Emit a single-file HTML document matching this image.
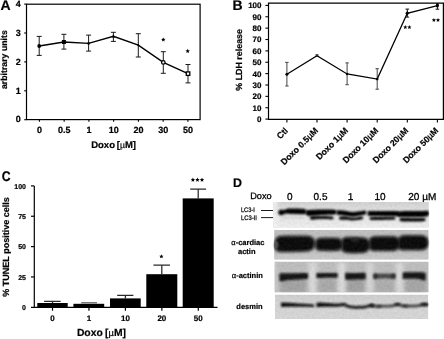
<!DOCTYPE html>
<html><head><meta charset="utf-8">
<style>
html,body{margin:0;padding:0;background:#fff;width:444px;height:339px;overflow:hidden}
svg{display:block;filter:blur(0.3px)}
text{font-family:"Liberation Sans",sans-serif;text-rendering:geometricPrecision}
.b{font-weight:bold;stroke:#000;stroke-width:0.2px}
</style></head><body>
<svg width="444" height="339" viewBox="0 0 444 339">
<defs>
<filter id="bl1" x="-30%" y="-150%" width="160%" height="400%"><feGaussianBlur stdDeviation="0.9"/></filter>
<filter id="bl08" x="-30%" y="-150%" width="160%" height="400%"><feGaussianBlur stdDeviation="0.7"/></filter>
<filter id="bl15" x="-30%" y="-150%" width="160%" height="400%"><feGaussianBlur stdDeviation="1.2"/></filter>
<filter id="addnoise" x="0" y="0" width="100%" height="100%" color-interpolation-filters="sRGB">
<feTurbulence type="fractalNoise" baseFrequency="0.4" numOctaves="2" seed="7" result="n"/>
<feColorMatrix in="n" type="matrix" values="1 0 0 0 0  1 0 0 0 0  1 0 0 0 0  0 0 0 0 1" result="g"/>
<feComposite in="SourceGraphic" in2="g" operator="arithmetic" k1="0" k2="1" k3="0.08" k4="-0.04" result="c"/>
<feComposite in="c" in2="SourceAlpha" operator="in"/>
</filter>
<clipPath id="c3"><rect x="274.6" y="261.6" width="154" height="30.8"/></clipPath>
<filter id="bl2" x="-30%" y="-150%" width="160%" height="400%"><feGaussianBlur stdDeviation="1.4"/></filter>
<filter id="bl3" x="-30%" y="-150%" width="160%" height="400%"><feGaussianBlur stdDeviation="2.2"/></filter>
<linearGradient id="g1" x1="0" y1="0" x2="0" y2="1">
<stop offset="0" stop-color="#cfcfcf"/><stop offset="0.25" stop-color="#dadada"/><stop offset="0.6" stop-color="#e3e3e3"/><stop offset="1" stop-color="#ebebeb"/>
</linearGradient>
<linearGradient id="g1l" x1="0" y1="0" x2="1" y2="0">
<stop offset="0" stop-color="#f2f2f2" stop-opacity="0.9"/><stop offset="1" stop-color="#f2f2f2" stop-opacity="0"/>
</linearGradient>
<linearGradient id="g2" x1="0" y1="0" x2="0" y2="1">
<stop offset="0" stop-color="#bebebe"/><stop offset="0.5" stop-color="#bdbdbd"/><stop offset="1" stop-color="#c8c8c8"/>
</linearGradient>
<linearGradient id="g4" x1="0" y1="0" x2="0" y2="1">
<stop offset="0" stop-color="#cbcbcb"/><stop offset="0.3" stop-color="#d2d2d2"/><stop offset="1" stop-color="#d4d4d4"/>
</linearGradient>
</defs>

<!-- ============ PANEL A ============ -->
<g id="A">
<text x="0.6" y="10.2" class="b" font-size="14">A</text>
<rect x="26.5" y="4.2" width="173.6" height="115.4" fill="none" stroke="#000" stroke-width="1.2"/>
<g stroke="#000" stroke-width="1.1">
<line x1="24.2" y1="4.1" x2="26.5" y2="4.1"/>
<line x1="24.2" y1="33" x2="26.5" y2="33"/>
<line x1="24.2" y1="61.9" x2="26.5" y2="61.9"/>
<line x1="24.2" y1="90.8" x2="26.5" y2="90.8"/>
<line x1="24.2" y1="119.7" x2="26.5" y2="119.7"/>
<line x1="39.4" y1="119.6" x2="39.4" y2="121.8"/>
<line x1="64.15" y1="119.6" x2="64.15" y2="121.8"/>
<line x1="88.9" y1="119.6" x2="88.9" y2="121.8"/>
<line x1="113.65" y1="119.6" x2="113.65" y2="121.8"/>
<line x1="138.4" y1="119.6" x2="138.4" y2="121.8"/>
<line x1="163.15" y1="119.6" x2="163.15" y2="121.8"/>
<line x1="187.9" y1="119.6" x2="187.9" y2="121.8"/>
</g>
<g class="b" font-size="9" text-anchor="end">
<text x="20.8" y="6.8">4</text>
<text x="20.8" y="35.7">3</text>
<text x="20.8" y="64.6">2</text>
<text x="20.8" y="93.5">1</text>
<text x="20.8" y="122.4">0</text>
</g>
<g class="b" font-size="9" text-anchor="middle">
<text x="39.4" y="132.8">0</text>
<text x="64.15" y="132.8">0.5</text>
<text x="88.9" y="132.8">1</text>
<text x="113.65" y="132.8">10</text>
<text x="138.4" y="132.8">20</text>
<text x="163.15" y="132.8">30</text>
<text x="187.9" y="132.8">50</text>
</g>
<text x="91.2" y="148" class="b" font-size="9.5">Doxo <tspan dx="-0.8">[</tspan><tspan font-weight="normal" font-size="8.6">µ</tspan>M]</text>
<text transform="translate(7.3,59.6) rotate(-90)" class="b" font-size="8.75" text-anchor="middle">arbitrary units</text>
<!-- error bars -->
<g stroke="#1a1a1a" stroke-width="1">
<path d="M39.2 36.4V55.4M36.7 36.4H41.7M36.7 55.4H41.7"/>
<path d="M63.9 34.3V49.1M61.4 34.3H66.4M61.4 49.1H66.4"/>
<path d="M88.6 35.1V51.1M86.1 35.1H91.1M86.1 51.1H91.1"/>
<path d="M113.4 32.3V41.4M110.9 32.3H115.9M110.9 41.4H115.9"/>
<path d="M138.3 33.7V57M135.8 33.7H140.8M135.8 57H140.8"/>
<path d="M163.3 51.7V73.3M160.8 51.7H165.8M160.8 73.3H165.8"/>
<path d="M188 64.5V82.9M185.5 64.5H190.5M185.5 82.9H190.5"/>
</g>
<polyline points="39.2,46 63.9,42 88.6,43.4 113.4,36.3 138.3,45.2 163.3,62.4 188,73.6" fill="none" stroke="#000" stroke-width="1.4"/>
<circle cx="39.2" cy="46" r="1.9" fill="#000"/>
<rect x="61.9" y="40" width="4" height="4" fill="#000"/>
<circle cx="88.6" cy="43.4" r="1.3" fill="#000"/>
<path d="M113.4 34.6 L115.3 37.4 L111.5 37.4Z" fill="#000"/>
<circle cx="138.3" cy="45.2" r="1" fill="#000"/>
<circle cx="163.3" cy="62.4" r="1.75" fill="#fff" stroke="#000" stroke-width="1.3"/>
<rect x="186.3" y="71.9" width="3.5" height="3.5" fill="#fff" stroke="#000" stroke-width="1.3"/>
<g fill="#000"><polygon points="163.30,37.39 163.92,38.85 165.50,38.99 164.29,40.02 164.65,41.57 163.30,40.75 161.95,41.57 162.31,40.02 161.10,38.99 162.68,38.85"/><polygon points="187.70,48.79 188.32,50.25 189.90,50.39 188.69,51.42 189.05,52.97 187.70,52.15 186.35,52.97 186.71,51.42 185.50,50.39 187.08,50.25"/></g>
</g>

<!-- ============ PANEL B ============ -->
<g id="B">
<text x="232.6" y="10.2" class="b" font-size="14">B</text>
<path d="M268.5 3.1H443.4V119.4H268.5Z" fill="none" stroke="#000" stroke-width="1.2"/>
<g stroke="#000" stroke-width="1.1">
<line x1="265.4" y1="5.4" x2="268.5" y2="5.4"/>
<line x1="265.4" y1="16.77" x2="268.5" y2="16.77"/>
<line x1="265.4" y1="28.14" x2="268.5" y2="28.14"/>
<line x1="265.4" y1="39.51" x2="268.5" y2="39.51"/>
<line x1="265.4" y1="50.88" x2="268.5" y2="50.88"/>
<line x1="265.4" y1="62.25" x2="268.5" y2="62.25"/>
<line x1="265.4" y1="73.62" x2="268.5" y2="73.62"/>
<line x1="265.4" y1="84.99" x2="268.5" y2="84.99"/>
<line x1="265.4" y1="96.36" x2="268.5" y2="96.36"/>
<line x1="265.4" y1="107.73" x2="268.5" y2="107.73"/>
<line x1="265.4" y1="119.1" x2="268.5" y2="119.1"/>
<line x1="286.9" y1="119.4" x2="286.9" y2="122.4"/>
<line x1="317.0" y1="119.4" x2="317.0" y2="122.4"/>
<line x1="347.1" y1="119.4" x2="347.1" y2="122.4"/>
<line x1="377.2" y1="119.4" x2="377.2" y2="122.4"/>
<line x1="407.3" y1="119.4" x2="407.3" y2="122.4"/>
<line x1="437.4" y1="119.4" x2="437.4" y2="122.4"/>
</g>
<g class="b" font-size="8" text-anchor="end">
<text x="261.5" y="8.3">100</text>
<text x="261.5" y="19.67">90</text>
<text x="261.5" y="31.04">80</text>
<text x="261.5" y="42.41">70</text>
<text x="261.5" y="53.78">60</text>
<text x="261.5" y="65.15">50</text>
<text x="261.5" y="76.52">40</text>
<text x="261.5" y="87.89">30</text>
<text x="261.5" y="99.26">20</text>
<text x="261.5" y="110.63">10</text>
<text x="261.5" y="122">0</text>
</g>
<text transform="translate(242.3,59.9) rotate(-90)" class="b" font-size="8.9" text-anchor="middle">% LDH release</text>
<g class="b" font-size="8.7" text-anchor="end">
<text transform="translate(288.5,131.2) rotate(-45)">Ctl</text>
<text transform="translate(318.6,131.2) rotate(-45)">Doxo 0.5<tspan font-weight="normal" style="stroke-width:0.35px">µ</tspan>M</text>
<text transform="translate(348.7,131.2) rotate(-45)">Doxo 1<tspan font-weight="normal" style="stroke-width:0.35px">µ</tspan>M</text>
<text transform="translate(378.8,131.2) rotate(-45)">Doxo 10<tspan font-weight="normal" style="stroke-width:0.35px">µ</tspan>M</text>
<text transform="translate(408.9,131.2) rotate(-45)">Doxo 20<tspan font-weight="normal" style="stroke-width:0.35px">µ</tspan>M</text>
<text transform="translate(439.0,131.2) rotate(-45)">Doxo 50<tspan font-weight="normal" style="stroke-width:0.35px">µ</tspan>M</text>
</g>
<g stroke="#444" stroke-width="1">
<path d="M286.9 62.4V86M285.2 62.4H288.6M285.2 86H288.6"/>
<path d="M347.1 62.9V84.7M345.4 62.9H348.8M345.4 84.7H348.8"/>
<path d="M377.2 68.7V89.2M375.5 68.7H378.9M375.5 89.2H378.9"/>
<path d="M407.3 9.1V17.1M405.5 9.1H409.1M405.5 17.1H409.1" stroke="#111"/>
<path d="M437.4 3.5V9.2M435.6 9.2H439.2" stroke="#111"/>
</g>
<polyline points="286.9,74.2 317,55.8 347.1,74 377.2,79.1 407.3,13.3 437.4,5.7" fill="none" stroke="#000" stroke-width="1.3"/>
<g fill="#000">
<circle cx="286.9" cy="74.2" r="1.5"/>
<circle cx="317" cy="55.8" r="1.2"/>
<circle cx="347.1" cy="74" r="1.2"/>
<circle cx="377.2" cy="79.1" r="1.3"/>
<path d="M407.3 10.9L409.3 13.2L407.3 15.4L405.3 13.2Z"/>
<ellipse cx="437.4" cy="5.4" rx="1.6" ry="2.1"/>
</g>
<g fill="#000"><polygon points="405.30,25.10 405.88,26.50 407.39,26.62 406.25,27.61 406.60,29.08 405.30,28.29 404.00,29.08 404.35,27.61 403.21,26.62 404.72,26.50"/><polygon points="409.40,25.10 409.98,26.50 411.49,26.62 410.35,27.61 410.70,29.08 409.40,28.29 408.10,29.08 408.45,27.61 407.31,26.62 408.82,26.50"/><polygon points="433.90,17.90 434.48,19.30 435.99,19.42 434.85,20.41 435.20,21.88 433.90,21.09 432.60,21.88 432.95,20.41 431.81,19.42 433.32,19.30"/><polygon points="438.00,17.90 438.58,19.30 440.09,19.42 438.95,20.41 439.30,21.88 438.00,21.09 436.70,21.88 437.05,20.41 435.91,19.42 437.42,19.30"/></g>
<path d="M317 54.8V56.8M315.3 54.8H318.7" stroke="#444" stroke-width="1"/>
</g>

<!-- ============ PANEL C ============ -->
<g id="C">
<text transform="matrix(0.87,0,0,1,1.1,0)" x="0.9" y="181.3" class="b" font-size="14">C</text>
<g stroke="#000" stroke-width="1.2">
<line x1="34.3" y1="185.9" x2="34.3" y2="307.3"/>
<line x1="31" y1="307.3" x2="217.5" y2="307.3"/>
<line x1="31" y1="185.9" x2="34.3" y2="185.9"/>
<line x1="31" y1="216.25" x2="34.3" y2="216.25"/>
<line x1="31" y1="246.6" x2="34.3" y2="246.6"/>
<line x1="31" y1="276.95" x2="34.3" y2="276.95"/>
<line x1="52.5" y1="307.3" x2="52.5" y2="310.7"/>
<line x1="88.95" y1="307.3" x2="88.95" y2="310.7"/>
<line x1="125.4" y1="307.3" x2="125.4" y2="310.7"/>
<line x1="161.85" y1="307.3" x2="161.85" y2="310.7"/>
<line x1="198.3" y1="307.3" x2="198.3" y2="310.7"/>
</g>
<g class="b" font-size="7" text-anchor="end">
<text x="26" y="188.7">100</text>
<text x="26" y="219.05">75</text>
<text x="26" y="249.4">50</text>
<text x="26" y="279.75">25</text>
<text x="26" y="310.1">0</text>
</g>
<g fill="#000">
<rect x="37.3" y="303" width="30.4" height="4.3"/>
<rect x="73.4" y="303.8" width="30.8" height="3.5"/>
<rect x="110" y="298.4" width="30.7" height="8.9"/>
<rect x="146.3" y="274.2" width="31" height="33.1"/>
<rect x="182.7" y="198.4" width="31" height="108.9"/>
</g>
<g stroke="#2a2a2a" stroke-width="1.25">
<path d="M52.5 303V301.3M44.1 301.3H60.6"/>
<path d="M125.4 298.4V295.3M117.2 295.3H133.4"/>
<path d="M161.8 274.2V265.1M153.4 265.1H170"/>
<path d="M198.2 198.4V189.1M190.2 189.1H206.1"/>
</g>
<path d="M81.2 302.8H97" stroke="#555" stroke-width="1.2"/>
<g class="b" font-size="8" text-anchor="middle">
<text x="52.5" y="321">0</text>
<text x="88.95" y="321">1</text>
<text x="125.4" y="321">10</text>
<text x="161.85" y="321">20</text>
<text x="198.3" y="321">50</text>
</g>
<g fill="#000"><polygon points="161.40,254.19 162.02,255.65 163.60,255.79 162.39,256.82 162.75,258.37 161.40,257.55 160.05,258.37 160.41,256.82 159.20,255.79 160.78,255.65"/><polygon points="192.90,177.59 193.52,179.05 195.10,179.19 193.89,180.22 194.25,181.77 192.90,180.95 191.55,181.77 191.91,180.22 190.70,179.19 192.28,179.05"/><polygon points="197.45,177.59 198.07,179.05 199.65,179.19 198.44,180.22 198.80,181.77 197.45,180.95 196.10,181.77 196.46,180.22 195.25,179.19 196.83,179.05"/><polygon points="202.00,177.59 202.62,179.05 204.20,179.19 202.99,180.22 203.35,181.77 202.00,180.95 200.65,181.77 201.01,180.22 199.80,179.19 201.38,179.05"/></g>
<text x="76.9" y="336.1" class="b" font-size="10.35">Doxo <tspan dx="-0.6">[</tspan><tspan font-weight="normal" font-size="9.4">µ</tspan>M]</text>
<text transform="translate(8.8,247) rotate(-90)" class="b" font-size="9" text-anchor="middle">% TUNEL positive cells</text>
</g>

<!-- ============ PANEL D ============ -->
<g id="D">
<text x="233.1" y="187.1" class="b" font-size="12.4">D</text>
<g style="stroke:#000;stroke-width:0.3px">
<text x="250.2" y="199.2" font-size="9.2">Doxo</text>
<g font-size="10" text-anchor="middle">
<text x="289.8" y="200">0</text>
<text x="320.5" y="200">0.5</text>
<text x="350.5" y="200">1</text>
<text x="380" y="200">10</text>
</g>
<text x="408.3" y="200" font-size="10">20 µM</text>
</g>

<!-- panel 1 LC3 -->
<g filter="url(#addnoise)">
<rect x="273.3" y="202" width="155.5" height="25.7" fill="url(#g1)"/>
<rect x="273.3" y="202" width="7" height="25.7" fill="url(#g1l)"/>
<path d="M281.76 217.50 C281.76 217.27 280.29 216.93 282.00 216.80 C283.71 216.67 288.50 216.70 292.00 216.70 C295.50 216.70 301.13 216.67 303.00 216.80 C304.87 216.93 303.24 217.27 303.24 217.50 C303.24 217.73 304.87 218.10 303.00 218.20 C301.13 218.30 295.50 218.10 292.00 218.10 C288.50 218.10 283.71 218.30 282.00 218.20 C280.29 218.10 281.76 217.73 281.76 217.50Z" fill="#c6c6c6" filter="url(#bl1)"/>
<path d="M278.26 212.50 C278.26 212.03 278.24 211.53 278.50 211.10 C278.76 210.67 279.22 210.12 279.80 209.90 C280.38 209.68 281.30 209.78 282.00 209.80 C282.70 209.82 283.42 210.05 284.00 210.00 C284.58 209.95 284.92 209.72 285.50 209.50 C286.08 209.28 285.92 208.85 287.50 208.70 C289.08 208.55 292.58 208.58 295.00 208.60 C297.42 208.62 300.42 208.72 302.00 208.80 C303.58 208.88 303.83 208.88 304.50 209.10 C305.17 209.32 305.71 209.63 306.00 210.10 C306.29 210.57 306.24 211.30 306.24 211.90 C306.24 212.50 306.29 213.33 306.00 213.70 C305.71 214.07 305.17 214.00 304.50 214.10 C303.83 214.20 303.58 214.30 302.00 214.30 C300.42 214.30 297.42 214.20 295.00 214.10 C292.58 214.00 289.08 213.82 287.50 213.70 C285.92 213.58 286.08 213.30 285.50 213.40 C284.92 213.50 284.58 214.02 284.00 214.30 C283.42 214.58 282.70 215.00 282.00 215.10 C281.30 215.20 280.38 215.10 279.80 214.90 C279.22 214.70 278.76 214.30 278.50 213.90 C278.24 213.50 278.26 212.97 278.26 212.50Z" fill="#050505" filter="url(#bl1)"/>
<path d="M305.56 212.45 C305.56 211.97 305.56 211.38 305.80 211.00 C306.04 210.62 306.30 210.37 307.00 210.20 C307.70 210.03 307.83 210.10 310.00 210.00 C312.17 209.90 316.67 209.67 320.00 209.60 C323.33 209.53 327.67 209.58 330.00 209.60 C332.33 209.62 332.95 209.58 334.00 209.70 C335.05 209.82 335.88 209.92 336.30 210.30 C336.72 210.68 336.54 211.43 336.54 212.00 C336.54 212.57 336.72 213.30 336.30 213.70 C335.88 214.10 335.05 214.22 334.00 214.40 C332.95 214.58 332.33 214.65 330.00 214.80 C327.67 214.95 323.33 215.10 320.00 215.30 C316.67 215.50 312.17 215.98 310.00 216.00 C307.83 216.02 307.70 215.75 307.00 215.40 C306.30 215.05 306.04 214.39 305.80 213.90 C305.56 213.41 305.56 212.93 305.56 212.45Z" fill="#050505" filter="url(#bl1)"/>
<path d="M336.46 212.50 C336.46 211.97 336.44 211.27 336.70 210.90 C336.96 210.53 337.45 210.40 338.00 210.30 C338.55 210.20 338.83 210.23 340.00 210.30 C341.17 210.37 343.00 210.43 345.00 210.70 C347.00 210.97 349.83 211.78 352.00 211.90 C354.17 212.02 356.17 211.60 358.00 211.40 C359.83 211.20 361.83 210.82 363.00 210.70 C364.17 210.58 364.47 210.60 365.00 210.70 C365.53 210.80 365.96 210.98 366.20 211.30 C366.44 211.62 366.44 212.20 366.44 212.65 C366.44 213.10 366.44 213.69 366.20 214.00 C365.96 214.31 365.53 214.35 365.00 214.50 C364.47 214.65 364.17 214.65 363.00 214.90 C361.83 215.15 359.83 215.70 358.00 216.00 C356.17 216.30 354.17 216.73 352.00 216.70 C349.83 216.67 347.00 216.07 345.00 215.80 C343.00 215.53 341.17 215.25 340.00 215.10 C338.83 214.95 338.55 215.07 338.00 214.90 C337.45 214.73 336.96 214.50 336.70 214.10 C336.44 213.70 336.46 213.03 336.46 212.50Z" fill="#050505" filter="url(#bl1)"/>
<path d="M367.56 213.50 C367.56 212.93 367.56 212.22 367.80 211.80 C368.04 211.38 368.30 211.15 369.00 211.00 C369.70 210.85 369.33 210.90 372.00 210.90 C374.67 210.90 381.17 210.97 385.00 211.00 C388.83 211.03 392.83 211.02 395.00 211.10 C397.17 211.18 397.17 211.33 398.00 211.50 C398.83 211.67 399.63 211.68 400.00 212.10 C400.37 212.52 400.24 213.37 400.24 214.00 C400.24 214.63 400.37 215.55 400.00 215.90 C399.63 216.25 398.83 216.05 398.00 216.10 C397.17 216.15 397.17 216.18 395.00 216.20 C392.83 216.22 388.83 216.22 385.00 216.20 C381.17 216.18 374.67 216.13 372.00 216.10 C369.33 216.07 369.70 216.15 369.00 216.00 C368.30 215.85 368.04 215.62 367.80 215.20 C367.56 214.78 367.56 214.07 367.56 213.50Z" fill="#050505" filter="url(#bl1)"/>
<path d="M397.26 214.20 C397.26 213.63 397.13 212.88 397.50 212.50 C397.87 212.12 398.58 212.13 399.50 211.90 C400.42 211.67 401.25 211.27 403.00 211.10 C404.75 210.93 407.17 210.92 410.00 210.90 C412.83 210.88 417.33 211.03 420.00 211.00 C422.67 210.97 424.67 210.75 426.00 210.70 C427.33 210.65 427.53 210.58 428.00 210.70 C428.47 210.82 428.63 210.96 428.80 211.40 C428.97 211.84 429.04 212.70 429.04 213.35 C429.04 214.00 428.97 214.88 428.80 215.30 C428.63 215.73 428.47 215.72 428.00 215.90 C427.53 216.08 427.33 216.23 426.00 216.40 C424.67 216.57 422.67 216.80 420.00 216.90 C417.33 217.00 412.83 217.00 410.00 217.00 C407.17 217.00 404.75 216.95 403.00 216.90 C401.25 216.85 400.42 216.87 399.50 216.70 C398.58 216.53 397.87 216.32 397.50 215.90 C397.13 215.48 397.26 214.77 397.26 214.20Z" fill="#050505" filter="url(#bl1)"/>
<path d="M310.06 218.00 C310.06 217.57 310.06 217.02 310.30 216.70 C310.54 216.38 310.88 216.22 311.50 216.10 C312.12 215.98 312.58 216.03 314.00 216.00 C315.42 215.97 318.00 215.88 320.00 215.90 C322.00 215.92 324.17 216.00 326.00 216.10 C327.83 216.20 329.78 216.37 331.00 216.50 C332.22 216.63 332.88 216.65 333.30 216.90 C333.72 217.15 333.54 217.63 333.54 218.00 C333.54 218.37 333.72 218.87 333.30 219.10 C332.88 219.33 332.22 219.40 331.00 219.40 C329.78 219.40 327.83 219.17 326.00 219.10 C324.17 219.03 322.00 218.93 320.00 219.00 C318.00 219.07 315.42 219.38 314.00 219.50 C312.58 219.62 312.12 219.73 311.50 219.70 C310.88 219.67 310.54 219.58 310.30 219.30 C310.06 219.02 310.06 218.43 310.06 218.00Z" fill="#050505" filter="url(#bl1)"/>
<path d="M339.16 218.20 C339.16 217.80 339.09 217.28 339.40 217.00 C339.71 216.72 339.90 216.60 341.00 216.50 C342.10 216.40 344.17 216.25 346.00 216.40 C347.83 216.55 350.17 217.27 352.00 217.40 C353.83 217.53 355.50 217.33 357.00 217.20 C358.50 217.07 360.03 216.65 361.00 216.60 C361.97 216.55 362.46 216.67 362.80 216.90 C363.14 217.13 363.04 217.63 363.04 218.00 C363.04 218.37 363.14 218.87 362.80 219.10 C362.46 219.33 361.97 219.23 361.00 219.40 C360.03 219.57 358.50 219.93 357.00 220.10 C355.50 220.27 353.83 220.47 352.00 220.40 C350.17 220.33 347.83 219.82 346.00 219.70 C344.17 219.58 342.10 219.75 341.00 219.70 C339.90 219.65 339.71 219.65 339.40 219.40 C339.09 219.15 339.16 218.60 339.16 218.20Z" fill="#050505" filter="url(#bl1)"/>
<path d="M369.76 218.55 C369.76 218.13 369.71 217.58 370.00 217.30 C370.29 217.03 369.83 216.98 371.50 216.90 C373.17 216.82 376.92 216.82 380.00 216.80 C383.08 216.78 387.67 216.80 390.00 216.80 C392.33 216.80 393.13 216.73 394.00 216.80 C394.87 216.87 394.96 216.96 395.20 217.20 C395.44 217.44 395.44 217.90 395.44 218.25 C395.44 218.60 395.44 219.08 395.20 219.30 C394.96 219.53 394.87 219.52 394.00 219.60 C393.13 219.68 392.33 219.73 390.00 219.80 C387.67 219.87 383.08 219.95 380.00 220.00 C376.92 220.05 373.17 220.13 371.50 220.10 C369.83 220.07 370.29 220.06 370.00 219.80 C369.71 219.54 369.76 218.97 369.76 218.55Z" fill="#050505" filter="url(#bl1)"/>
<path d="M399.66 219.60 C399.66 219.17 399.59 218.62 399.90 218.30 C400.21 217.98 400.65 217.80 401.50 217.70 C402.35 217.60 403.25 217.67 405.00 217.70 C406.75 217.73 409.50 217.85 412.00 217.90 C414.50 217.95 418.00 217.97 420.00 218.00 C422.00 218.03 423.13 218.02 424.00 218.10 C424.87 218.18 424.96 218.24 425.20 218.50 C425.44 218.76 425.44 219.27 425.44 219.65 C425.44 220.03 425.44 220.54 425.20 220.80 C424.96 221.06 424.87 221.10 424.00 221.20 C423.13 221.30 422.00 221.35 420.00 221.40 C418.00 221.45 414.50 221.48 412.00 221.50 C409.50 221.52 406.75 221.53 405.00 221.50 C403.25 221.47 402.35 221.40 401.50 221.30 C400.65 221.20 400.21 221.18 399.90 220.90 C399.59 220.62 399.66 220.03 399.66 219.60Z" fill="#050505" filter="url(#bl1)"/>
<rect x="274.2" y="229.9" width="154.4" height="29.8" fill="url(#g2)"/>
<path d="M275.06 244.50 C275.06 242.83 274.89 240.70 275.30 239.50 C275.71 238.30 276.72 237.87 277.50 237.30 C278.28 236.73 277.92 236.37 280.00 236.10 C282.08 235.83 285.83 235.75 290.00 235.70 C294.17 235.65 301.67 235.70 305.00 235.80 C308.33 235.90 308.73 235.98 310.00 236.30 C311.27 236.62 311.83 237.08 312.60 237.70 C313.37 238.32 314.23 239.03 314.60 240.00 C314.97 240.97 314.84 242.33 314.84 243.50 C314.84 244.67 314.97 246.03 314.60 247.00 C314.23 247.97 313.37 248.68 312.60 249.30 C311.83 249.92 311.27 250.33 310.00 250.70 C308.73 251.07 308.33 251.28 305.00 251.50 C301.67 251.72 294.17 251.93 290.00 252.00 C285.83 252.07 282.08 252.02 280.00 251.90 C277.92 251.78 278.28 251.70 277.50 251.30 C276.72 250.90 275.71 250.63 275.30 249.50 C274.89 248.37 275.06 246.17 275.06 244.50Z" fill="#070707" filter="url(#bl2)"/>
<path d="M315.36 244.50 C315.36 243.17 315.19 241.47 315.60 240.50 C316.01 239.53 317.07 239.13 317.80 238.70 C318.53 238.27 317.97 238.05 320.00 237.90 C322.03 237.75 327.00 237.78 330.00 237.80 C333.00 237.82 336.30 237.82 338.00 238.00 C339.70 238.18 339.53 238.40 340.20 238.90 C340.87 239.40 341.66 240.07 342.00 241.00 C342.34 241.93 342.24 243.33 342.24 244.50 C342.24 245.67 342.34 247.13 342.00 248.00 C341.66 248.87 340.87 249.25 340.20 249.70 C339.53 250.15 339.70 250.50 338.00 250.70 C336.30 250.90 333.00 250.88 330.00 250.90 C327.00 250.92 322.03 250.90 320.00 250.80 C317.97 250.70 318.53 250.68 317.80 250.30 C317.07 249.92 316.01 249.47 315.60 248.50 C315.19 247.53 315.36 245.83 315.36 244.50Z" fill="#070707" filter="url(#bl2)"/>
<path d="M341.46 245.00 C341.46 243.33 341.28 241.17 341.70 240.00 C342.12 238.83 343.12 238.48 344.00 238.00 C344.88 237.52 344.33 237.22 347.00 237.10 C349.67 236.98 356.83 237.13 360.00 237.30 C363.17 237.47 364.67 237.65 366.00 238.10 C367.33 238.55 367.38 239.27 368.00 240.00 C368.62 240.73 369.38 241.62 369.70 242.50 C370.02 243.38 369.94 244.33 369.94 245.25 C369.94 246.17 370.02 247.12 369.70 248.00 C369.38 248.88 368.62 249.78 368.00 250.50 C367.38 251.22 367.33 251.87 366.00 252.30 C364.67 252.73 363.17 253.00 360.00 253.10 C356.83 253.20 349.67 253.08 347.00 252.90 C344.33 252.72 344.88 252.48 344.00 252.00 C343.12 251.52 342.12 251.17 341.70 250.00 C341.28 248.83 341.46 246.67 341.46 245.00Z" fill="#070707" filter="url(#bl2)"/>
<path d="M369.16 243.75 C369.16 242.17 368.99 240.09 369.40 239.00 C369.81 237.91 370.83 237.63 371.60 237.20 C372.37 236.77 370.93 236.55 374.00 236.40 C377.07 236.25 386.33 236.25 390.00 236.30 C393.67 236.35 394.72 236.40 396.00 236.70 C397.28 237.00 397.13 237.47 397.70 238.10 C398.27 238.73 399.08 239.56 399.40 240.50 C399.72 241.44 399.64 242.67 399.64 243.75 C399.64 244.83 399.72 246.11 399.40 247.00 C399.08 247.89 398.27 248.52 397.70 249.10 C397.13 249.68 397.28 250.18 396.00 250.50 C394.72 250.82 393.67 250.93 390.00 251.00 C386.33 251.07 377.07 251.03 374.00 250.90 C370.93 250.77 372.37 250.60 371.60 250.20 C370.83 249.80 369.81 249.57 369.40 248.50 C368.99 247.43 369.16 245.33 369.16 243.75Z" fill="#070707" filter="url(#bl2)"/>
<path d="M398.06 243.25 C398.06 241.67 397.89 239.62 398.30 238.50 C398.71 237.38 399.72 237.02 400.50 236.50 C401.28 235.98 400.08 235.62 403.00 235.40 C405.92 235.18 414.50 235.15 418.00 235.20 C421.50 235.25 422.60 235.35 424.00 235.70 C425.40 236.05 425.68 236.58 426.40 237.30 C427.12 238.02 427.94 239.09 428.30 240.00 C428.66 240.91 428.54 241.83 428.54 242.75 C428.54 243.67 428.66 244.57 428.30 245.50 C427.94 246.43 427.12 247.60 426.40 248.30 C425.68 249.00 425.40 249.37 424.00 249.70 C422.60 250.03 421.50 250.20 418.00 250.30 C414.50 250.40 405.92 250.40 403.00 250.30 C400.08 250.20 401.28 250.08 400.50 249.70 C399.72 249.32 398.71 249.07 398.30 248.00 C397.89 246.93 398.06 244.83 398.06 243.25Z" fill="#070707" filter="url(#bl2)"/>
<ellipse cx="276" cy="245" rx="2.2" ry="4" fill="#555" filter="url(#bl1)"/>
<ellipse cx="355" cy="239.8" rx="4.5" ry="1.5" fill="#2e2e2e" filter="url(#bl1)"/>
<rect x="274.6" y="261.6" width="154" height="30.8" fill="#bcbcbc"/>
<g clip-path="url(#c3)"><g filter="url(#bl3)"><rect x="271" y="262" width="6.5" height="32" fill="#c8c8c8"/><rect x="308.8" y="262" width="7.8" height="32" fill="#d8d8d8"/><rect x="338" y="262" width="7.5" height="32" fill="#dadada"/><rect x="366.5" y="262" width="7" height="32" fill="#d4d4d4"/><rect x="396" y="262" width="7.5" height="32" fill="#d8d8d8"/><rect x="280" y="279" width="27" height="14" fill="#a2a2a2"/><rect x="317" y="278" width="20" height="15" fill="#a8a8a8"/><rect x="346" y="279" width="19" height="14" fill="#a0a0a0"/><rect x="374" y="279" width="21" height="14" fill="#acacac"/><rect x="404" y="279" width="22" height="14" fill="#a4a4a4"/></g></g>
<path d="M279.36 277.25 C279.36 276.07 279.24 274.36 279.60 273.70 C279.96 273.04 280.43 273.37 281.50 273.30 C282.57 273.23 283.75 273.32 286.00 273.30 C288.25 273.28 292.00 273.25 295.00 273.20 C298.00 273.15 301.87 272.97 304.00 273.00 C306.13 273.03 307.13 272.88 307.80 273.40 C308.47 273.92 308.04 275.20 308.04 276.10 C308.04 277.00 308.47 278.28 307.80 278.80 C307.13 279.32 306.13 279.03 304.00 279.20 C301.87 279.37 298.00 279.60 295.00 279.80 C292.00 280.00 288.25 280.17 286.00 280.40 C283.75 280.63 282.57 281.13 281.50 281.20 C280.43 281.27 279.96 281.46 279.60 280.80 C279.24 280.14 279.36 278.43 279.36 277.25Z" fill="#151515" filter="url(#bl1)"/>
<path d="M316.36 275.60 C316.36 274.87 315.99 273.82 316.60 273.40 C317.21 272.98 317.77 273.15 320.00 273.10 C322.23 273.05 327.12 273.07 330.00 273.10 C332.88 273.13 336.04 272.92 337.30 273.30 C338.56 273.68 337.54 274.70 337.54 275.40 C337.54 276.10 338.56 277.12 337.30 277.50 C336.04 277.88 332.88 277.63 330.00 277.70 C327.12 277.77 322.23 277.88 320.00 277.90 C317.77 277.92 317.21 278.18 316.60 277.80 C315.99 277.42 316.36 276.33 316.36 275.60Z" fill="#181818" filter="url(#bl1)"/>
<path d="M345.26 276.35 C345.26 275.27 344.71 273.68 345.50 273.10 C346.29 272.53 347.92 272.93 350.00 272.90 C352.08 272.87 355.45 272.87 358.00 272.90 C360.55 272.93 364.04 272.56 365.30 273.10 C366.56 273.64 365.54 275.13 365.54 276.15 C365.54 277.17 366.56 278.62 365.30 279.20 C364.04 279.77 360.55 279.50 358.00 279.60 C355.45 279.70 352.08 279.80 350.00 279.80 C347.92 279.80 346.29 280.17 345.50 279.60 C344.71 279.02 345.26 277.43 345.26 276.35Z" fill="#141414" filter="url(#bl1)"/>
<path d="M373.36 276.30 C373.36 275.33 372.83 273.87 373.60 273.40 C374.37 272.93 376.10 273.47 378.00 273.50 C379.90 273.53 382.83 273.60 385.00 273.60 C387.17 273.60 389.32 273.55 391.00 273.50 C392.68 273.45 394.38 272.84 395.10 273.30 C395.82 273.76 395.34 275.27 395.34 276.25 C395.34 277.23 395.82 278.77 395.10 279.20 C394.38 279.62 392.68 278.93 391.00 278.80 C389.32 278.67 387.17 278.40 385.00 278.40 C382.83 278.40 379.90 278.67 378.00 278.80 C376.10 278.93 374.37 279.62 373.60 279.20 C372.83 278.78 373.36 277.27 373.36 276.30Z" fill="#4a4a4a" filter="url(#bl1)"/>
<path d="M402.76 275.70 C402.76 274.67 402.13 273.18 403.00 272.60 C403.87 272.02 405.50 272.27 408.00 272.20 C410.50 272.13 415.50 272.17 418.00 272.20 C420.50 272.23 421.75 272.27 423.00 272.40 C424.25 272.53 425.04 272.30 425.50 273.00 C425.96 273.70 425.74 275.40 425.74 276.60 C425.74 277.80 425.96 279.60 425.50 280.20 C425.04 280.80 424.25 280.40 423.00 280.20 C421.75 280.00 420.50 279.23 418.00 279.00 C415.50 278.77 410.50 278.83 408.00 278.80 C405.50 278.77 403.87 279.32 403.00 278.80 C402.13 278.28 402.76 276.73 402.76 275.70Z" fill="#121212" filter="url(#bl1)"/>
<g filter="url(#bl1)" fill="#2a2a2a"><ellipse cx="375.6" cy="276.2" rx="1.8" ry="2.1"/><ellipse cx="393.4" cy="276.1" rx="1.8" ry="2.1"/></g>
<rect x="275" y="294.6" width="153.2" height="24.4" fill="url(#g4)"/>
<path d="M280.96 304.70 C280.96 304.03 280.86 303.08 281.20 302.70 C281.54 302.32 281.87 302.40 283.00 302.40 C284.13 302.40 285.83 302.57 288.00 302.70 C290.17 302.83 293.17 303.02 296.00 303.20 C298.83 303.38 302.50 303.63 305.00 303.80 C307.50 303.97 309.50 304.07 311.00 304.20 C312.50 304.33 313.46 304.33 314.00 304.60 C314.54 304.87 314.24 305.40 314.24 305.80 C314.24 306.20 314.54 306.80 314.00 307.00 C313.46 307.20 312.50 307.03 311.00 307.00 C309.50 306.97 307.50 306.85 305.00 306.80 C302.50 306.75 298.83 306.70 296.00 306.70 C293.17 306.70 290.17 306.75 288.00 306.80 C285.83 306.85 284.13 307.02 283.00 307.00 C281.87 306.98 281.54 307.08 281.20 306.70 C280.86 306.32 280.96 305.37 280.96 304.70Z" fill="#0e0e0e" filter="url(#bl1)"/>
<path d="M316.56 304.95 C316.56 304.23 316.39 303.19 316.80 302.80 C317.21 302.41 317.47 302.57 319.00 302.60 C320.53 302.63 323.50 302.87 326.00 303.00 C328.50 303.13 331.67 303.33 334.00 303.40 C336.33 303.47 338.42 303.47 340.00 303.40 C341.58 303.33 342.58 303.00 343.50 303.00 C344.42 303.00 345.13 303.10 345.50 303.40 C345.87 303.70 345.74 304.33 345.74 304.80 C345.74 305.27 345.87 306.00 345.50 306.20 C345.13 306.40 344.42 305.97 343.50 306.00 C342.58 306.03 341.58 306.27 340.00 306.40 C338.42 306.53 336.33 306.73 334.00 306.80 C331.67 306.87 328.50 306.77 326.00 306.80 C323.50 306.83 320.53 306.95 319.00 307.00 C317.47 307.05 317.21 307.44 316.80 307.10 C316.39 306.76 316.56 305.67 316.56 304.95Z" fill="#0e0e0e" filter="url(#bl1)"/>
<path d="M344.76 305.00 C344.76 304.53 344.46 303.63 345.00 303.60 C345.54 303.57 346.67 304.43 348.00 304.80 C349.33 305.17 351.00 305.63 353.00 305.80 C355.00 305.97 357.83 305.90 360.00 305.80 C362.17 305.70 364.33 305.50 366.00 305.20 C367.67 304.90 368.83 304.17 370.00 304.00 C371.17 303.83 372.46 303.95 373.00 304.20 C373.54 304.45 373.24 305.07 373.24 305.50 C373.24 305.93 373.54 306.55 373.00 306.80 C372.46 307.05 371.17 306.77 370.00 307.00 C368.83 307.23 367.67 307.90 366.00 308.20 C364.33 308.50 362.17 308.70 360.00 308.80 C357.83 308.90 355.00 308.97 353.00 308.80 C351.00 308.63 349.33 308.20 348.00 307.80 C346.67 307.40 345.54 306.87 345.00 306.40 C344.46 305.93 344.76 305.47 344.76 305.00Z" fill="#1e1e1e" filter="url(#bl1)"/>
<path d="M371.76 305.70 C371.76 305.27 371.29 304.55 372.00 304.40 C372.71 304.25 374.00 304.75 376.00 304.80 C378.00 304.85 381.33 304.73 384.00 304.70 C386.67 304.67 390.00 304.85 392.00 304.60 C394.00 304.35 395.00 303.47 396.00 303.20 C397.00 302.93 397.33 302.93 398.00 303.00 C398.67 303.07 399.00 303.37 400.00 303.60 C401.00 303.83 402.00 304.25 404.00 304.40 C406.00 304.55 409.67 304.52 412.00 304.50 C414.33 304.48 416.33 304.55 418.00 304.30 C419.67 304.05 420.83 303.27 422.00 303.00 C423.17 302.73 424.03 302.70 425.00 302.70 C425.97 302.70 427.29 302.70 427.80 303.00 C428.31 303.30 428.04 304.00 428.04 304.50 C428.04 305.00 428.31 305.72 427.80 306.00 C427.29 306.28 425.97 306.17 425.00 306.20 C424.03 306.23 423.17 306.03 422.00 306.20 C420.83 306.37 419.67 306.98 418.00 307.20 C416.33 307.42 414.33 307.43 412.00 307.50 C409.67 307.57 406.00 307.78 404.00 307.60 C402.00 307.42 401.00 306.70 400.00 306.40 C399.00 306.10 398.67 305.87 398.00 305.80 C397.33 305.73 397.00 305.73 396.00 306.00 C395.00 306.27 394.00 307.13 392.00 307.40 C390.00 307.67 386.67 307.53 384.00 307.60 C381.33 307.67 378.00 307.90 376.00 307.80 C374.00 307.70 372.71 307.35 372.00 307.00 C371.29 306.65 371.76 306.13 371.76 305.70Z" fill="#474747" filter="url(#bl1)"/>
<g filter="url(#bl1)" fill="#1a1a1a"><ellipse cx="397.2" cy="304.6" rx="3.2" ry="1.3"/><ellipse cx="424.5" cy="304.5" rx="3.8" ry="1.6"/><ellipse cx="372" cy="305.6" rx="2.6" ry="1.3"/><ellipse cx="379" cy="306.3" rx="3" ry="1.1" fill="#333"/><ellipse cx="405" cy="305.9" rx="3" ry="1.1" fill="#333"/></g>
</g>
<!-- labels -->
<g font-size="6.6" style="stroke:#000;stroke-width:0.25px">
<text x="240.9" y="212" textLength="14" lengthAdjust="spacingAndGlyphs">LC3-I</text>
<text x="240.9" y="219.6" textLength="16" lengthAdjust="spacingAndGlyphs">LC3-II</text>
</g>
<g stroke="#000" stroke-width="0.9">
<line x1="261" y1="210.5" x2="273" y2="210.5"/>
<line x1="261" y1="217.6" x2="273" y2="217.6"/>
</g>
<g class="b" font-size="7.5">
<text x="231.3" y="245.3"><tspan style="font-weight:normal;stroke-width:0.25px">α</tspan>-cardiac</text>
<text x="238" y="253.8">actin</text>
<text x="231.8" y="277.6"><tspan style="font-weight:normal;stroke-width:0.25px">α</tspan>-actinin</text>
<text x="236.3" y="308.8">desmin</text>
</g>
</g>
</svg>
</body></html>
